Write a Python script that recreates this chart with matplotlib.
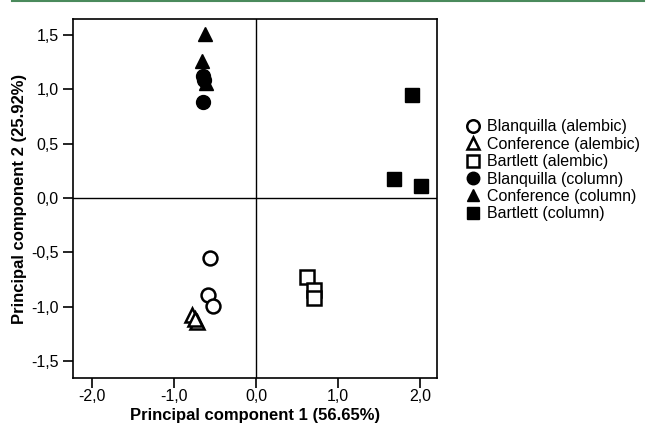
import matplotlib
matplotlib.use("Agg")
from matplotlib import pyplot as plt
from matplotlib.lines import Line2D

plt.rcParams['font.family'] = ['Liberation Sans', 'DejaVu Sans']

# scores (PC1, PC2)
blanq_alembic_x = [-0.56, -0.59, -0.52]
blanq_alembic_y = [-0.55, -0.89, -0.99]
conf_alembic_x = [-0.78, -0.72, -0.74]
conf_alembic_y = [-1.08, -1.14, -1.11]
bart_alembic_x = [0.62, 0.71, 0.71]
bart_alembic_y = [-0.73, -0.85, -0.92]
blanq_column_x = [-0.65, -0.63, -0.65]
blanq_column_y = [1.12, 1.09, 0.88]
conf_column_x = [-0.62, -0.66, -0.61]
conf_column_y = [1.51, 1.26, 1.06]
bart_column_x = [1.90, 1.68, 2.01]
bart_column_y = [0.95, 0.18, 0.11]

labels = ["Blanquilla (alembic)", "Conference (alembic)", "Bartlett (alembic)",
          "Blanquilla (column)", "Conference (column)", "Bartlett (column)"]
xticks = [-2.0, -1.0, 0.0, 1.0, 2.0]
yticks = [-1.5, -1.0, -0.5, 0.0, 0.5, 1.0, 1.5]

fig = plt.figure(figsize=(6.55, 4.34), dpi=100)
ax = fig.add_axes([0.1115, 0.129, 0.5557, 0.827])

ax.axhline(0, color="black", lw=1, zorder=1)
ax.axvline(0, color="black", lw=1, zorder=1)

ms = 10
open_kw = dict(ls="none", mfc="white", mec="black", mew=1.8, ms=ms)
fill_kw = dict(ls="none", mfc="black", mec="black", ms=ms)
ax.plot(blanq_alembic_x, blanq_alembic_y, marker="o", **open_kw)
ax.plot(conf_alembic_x, conf_alembic_y, marker="^", **open_kw)
ax.plot(bart_alembic_x, bart_alembic_y, marker="s", **open_kw)
ax.plot(blanq_column_x, blanq_column_y, marker="o", **fill_kw)
ax.plot(conf_column_x, conf_column_y, marker="^", **fill_kw)
ax.plot(bart_column_x, bart_column_y, marker="s", **fill_kw)

ax.set_xlim(-2.232, 2.207)
ax.set_ylim(-1.656, 1.647)
ax.set_xticks(xticks)
ax.set_yticks(yticks)
ax.set_xticklabels([f"{t:.1f}".replace(".", ",") for t in xticks])
ax.set_yticklabels([f"{t:.1f}".replace(".", ",") for t in yticks])
ax.tick_params(direction="out", length=7, width=1.2, labelsize=11.5, colors="black")
ax.tick_params(axis="x", pad=1)
for s in ax.spines.values():
    s.set_linewidth(1.2)

ax.set_xlabel("Principal component 1 (56.65%)", fontsize=12, fontweight="bold", labelpad=3)
ax.set_ylabel("Principal component 2 (25.92%)", fontsize=12, fontweight="bold", labelpad=3)

handles = [
    Line2D([], [], marker="o", mfc="white", mec="black", mew=1.8, ms=9, ls="none"),
    Line2D([], [], marker="^", mfc="white", mec="black", mew=1.8, ms=9, ls="none"),
    Line2D([], [], marker="s", mfc="white", mec="black", mew=1.8, ms=9, ls="none"),
    Line2D([], [], marker="o", mfc="black", mec="black", ms=9, ls="none"),
    Line2D([], [], marker="^", mfc="black", mec="black", ms=9, ls="none"),
    Line2D([], [], marker="s", mfc="black", mec="black", ms=9, ls="none"),
]
fig.legend(handles, labels, loc="upper left", bbox_to_anchor=(0.710, 0.725),
           frameon=False, fontsize=11.5, handlelength=1.0, handletextpad=0.4,
           labelspacing=0.15, borderaxespad=0, borderpad=0)

# green rule along the top
fig.add_artist(Line2D([0.018, 0.983], [0.998, 0.998], color="#4a8a5c", lw=1.5,
                      transform=fig.transFigure))

fig.savefig("out.png", dpi=100)
